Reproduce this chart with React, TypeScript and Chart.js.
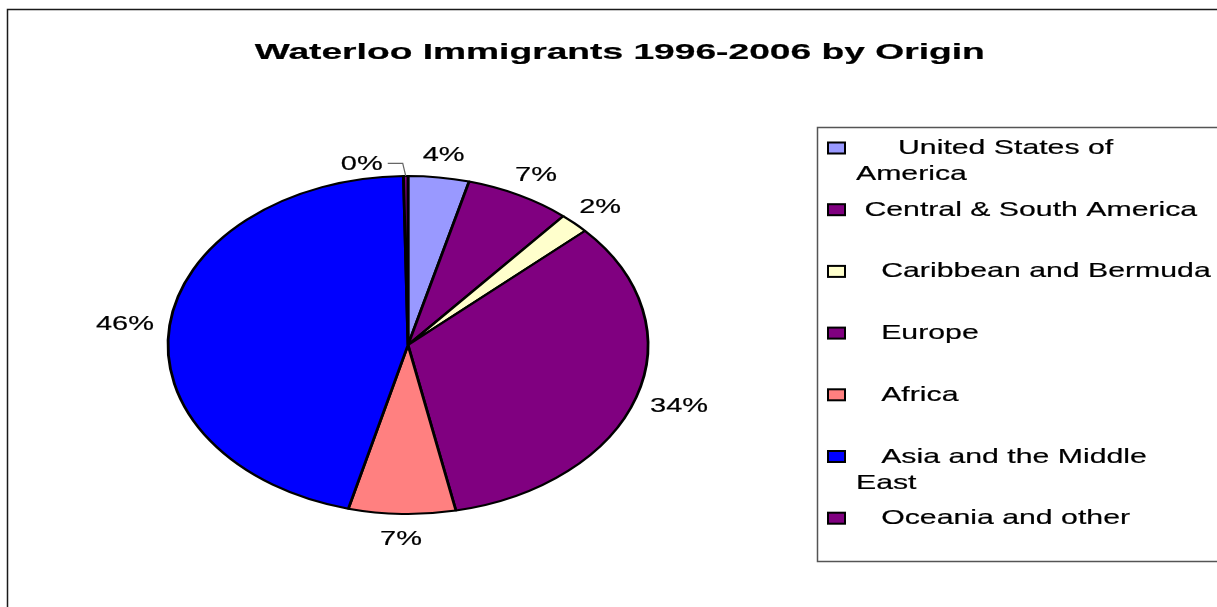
import React, { useEffect, useRef } from "react";
import { Chart, registerables } from "chart.js";

Chart.register(...registerables);

// ---------- data ----------
const TITLE = "Waterloo Immigrants 1996-2006 by Origin";
const categories = [
  "United States of America",
  "Central & South America",
  "Caribbean and Bermuda",
  "Europe",
  "Africa",
  "Asia and the Middle East",
  "Oceania and other",
];
const shares = [4.1, 7.1, 2.0, 33.6, 7.2, 45.7, 0.3];
const sliceColors = ["#9999FF", "#800080", "#FFFFCC", "#800080", "#FF8080", "#0000FF", "#800080"];
const legendLines = [
  ["     United States of", "America"],
  [" Central & South America"],
  ["   Caribbean and Bermuda"],
  ["   Europe"],
  ["   Africa"],
  ["   Asia and the Middle", "East"],
  ["   Oceania and other"],
];

// ---------- layout ----------
const W = 1217;
const H = 607;
const PIE_CX = 408;
const PIE_CY = 345;
const PIE_R = 169;
const BORDER_W = 2;
const PIE_STRETCH = 1.42;
const LABEL_STRETCH = 1.38;
const LEGEND_STRETCH = 1.44;
const TITLE_STRETCH = 1.69;
const FONT = '"Liberation Sans", Arial, Helvetica, sans-serif';

const stretchText = (
  ctx: CanvasRenderingContext2D,
  text: string,
  x: number,
  y: number,
  sx: number,
  align: CanvasTextAlign,
  weight: number
) => {
  ctx.save();
  ctx.translate(x, y);
  ctx.scale(sx, 1);
  ctx.textAlign = align;
  ctx.textBaseline = "alphabetic";
  ctx.fillText(text, 0, 0);
  if (weight > 0) {
    ctx.lineWidth = weight;
    ctx.strokeStyle = ctx.fillStyle as string;
    ctx.lineJoin = "round";
    ctx.strokeText(text, 0, 0);
  }
  ctx.restore();
};

const ellipsePlugin = {
  id: "ellipsePie",
  beforeDatasetsDraw(chart: any) {
    const arc = chart.getDatasetMeta(0).data[0];
    if (!arc) return;
    const ctx = chart.ctx;
    ctx.save();
    ctx.translate(arc.x, arc.y);
    ctx.scale(PIE_STRETCH, 1);
    ctx.translate(-arc.x, -arc.y);
  },
  afterDatasetsDraw(chart: any) {
    chart.ctx.restore();
  },
};

const decorPlugin = {
  id: "decor",
  afterDraw(chart: any) {
    const ctx: CanvasRenderingContext2D = chart.ctx;
    ctx.save();

    // outer chart frame
    ctx.strokeStyle = "#1a1a1a";
    ctx.lineWidth = 1.5;
    ctx.strokeRect(7.5, 9.5, 1300, 700);

    // title
    ctx.fillStyle = "#000";
    ctx.font = `bold 22px ${FONT}`;
    stretchText(ctx, TITLE, 619.7, 59, TITLE_STRETCH, "center", 0.2);

    // data labels
    const meta = chart.getDatasetMeta(0);
    const total = shares.reduce((a, b) => a + b, 0);
    ctx.font = `21px ${FONT}`;
    const d = 16;
    const h = 16;
    meta.data.forEach((arc: any, i: number) => {
      const txt = `${Math.round((shares[i] / total) * 100)}%`;
      const a = (arc.startAngle + arc.endAngle) / 2;
      const r = arc.outerRadius;
      const rx = r * PIE_STRETCH;
      const ca = Math.cos(a);
      const sa = Math.sin(a);
      const w = ctx.measureText(txt).width * LABEL_STRETCH;
      if (shares[i] / total < 0.005) {
        const px = arc.x + rx * ca;
        const py = arc.y + r * sa;
        ctx.strokeStyle = "#666";
        ctx.lineWidth = 1.2;
        ctx.beginPath();
        ctx.moveTo(px, py);
        ctx.lineTo(px - 3, py - 12.7);
        ctx.lineTo(px - 18, py - 12.7);
        ctx.stroke();
        ctx.fillStyle = "#000";
        stretchText(ctx, txt, px - 23 - w / 2, py - 14 + 7.5, LABEL_STRETCH, "center", 0.2);
        return;
      }
      const ax = arc.x + (rx + d) * ca;
      const ay = arc.y + (r + d) * sa;
      const cx = ax + (w / 2) * ca;
      const cy = ay + (h / 2) * sa;
      ctx.fillStyle = "#000";
      stretchText(ctx, txt, cx, cy + 7.5, LABEL_STRETCH, "center", 0.2);
    });

    // legend
    ctx.strokeStyle = "#555";
    ctx.lineWidth = 1.5;
    ctx.strokeRect(817.5, 127.5, 500, 434);
    ctx.font = `21px ${FONT}`;
    categories.forEach((_, i) => {
      const yc = 148 + i * 61.7;
      ctx.fillStyle = sliceColors[i];
      ctx.fillRect(828, yc - 5.5, 17, 11);
      ctx.strokeStyle = "#000";
      ctx.lineWidth = 2;
      ctx.strokeRect(828, yc - 5.5, 17, 11);
      ctx.fillStyle = "#000";
      legendLines[i].forEach((line, j) => {
        stretchText(ctx, line, 856, yc + 6 + j * 26.3, LEGEND_STRETCH, "left", 0.2);
      });
    });

    ctx.restore();
  },
};

export default function App() {
  const ref = useRef<HTMLCanvasElement | null>(null);

  useEffect(() => {
    if (!ref.current) return;
    const half = PIE_R + BORDER_W / 2;
    const chart = new Chart(ref.current, {
      type: "pie",
      data: {
        labels: categories,
        datasets: [
          {
            data: shares,
            backgroundColor: sliceColors,
            borderColor: "#000",
            borderWidth: BORDER_W,
            clip: false,
          } as any,
        ],
      },
      options: {
        responsive: false,
        animation: false,
        events: [],
        layout: {
          padding: {
            left: PIE_CX - half,
            right: W - (PIE_CX + half),
            top: PIE_CY - half,
            bottom: H - (PIE_CY + half),
          },
        },
        plugins: {
          legend: { display: false },
          title: { display: false },
          tooltip: { enabled: false },
        },
      },
      plugins: [ellipsePlugin, decorPlugin],
    });
    return () => chart.destroy();
  }, []);

  return (
    <div style={{ position: "absolute", left: 0, top: 0, width: W, height: H, background: "#fff" }}>
      <canvas ref={ref} width={W} height={H} style={{ display: "block" }} />
    </div>
  );
}
